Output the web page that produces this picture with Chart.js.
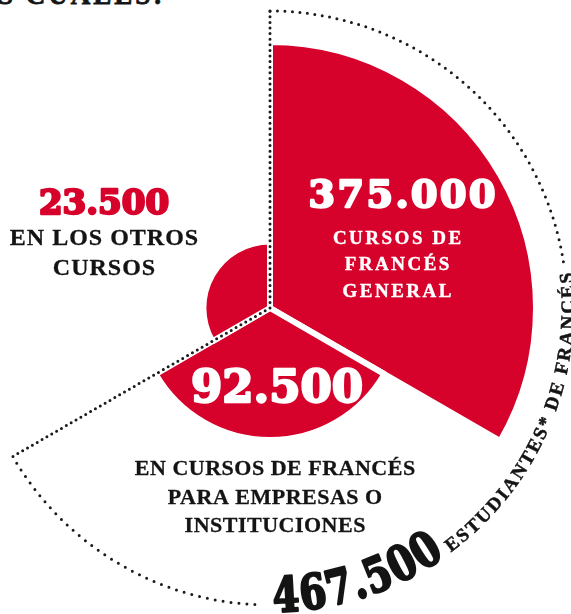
<!DOCTYPE html>
<html lang="es">
<head>
<meta charset="utf-8">
<script src="https://cdn.jsdelivr.net/npm/chart.js@4.4.1/dist/chart.umd.min.js"></script>
<style>
  html, body { margin: 0; padding: 0; background: #fff; overflow: hidden; }
  body { width: 571px; height: 614px; position: relative; }
  #titulo {
    position: absolute; left: -2px; top: -18px;
    font: bold 27px "Liberation Serif", serif; line-height: 27px;
    letter-spacing: 3px; color: #141414; white-space: nowrap;
    -webkit-text-stroke: 0.8px #141414;
  }
  #wrap { position: absolute; left: -27px; top: 0; width: 620px; height: 614px; }
</style>
</head>
<body>
<div id="titulo">S CUÁLES:</div>
<div id="wrap"><canvas id="grafico"></canvas></div>
<script>
// estudiantes de francés según el tipo de curso
const cursos = ['Francés general', 'Francés para empresas o instituciones', 'Otros cursos'];
const estudiantes = [375000, 92500, 23500];
const totalEstudiantes = 467500;
const cifras = ['375.000', '92.500', '23.500'];
const rotulos = [
  ['CURSOS DE', 'FRANCÉS', 'GENERAL'],
  ['EN CURSOS DE FRANCÉS', 'PARA EMPRESAS O', 'INSTITUCIONES'],
  ['EN LOS OTROS', 'CURSOS']
];
const cifraTotal = '467.500';
const rotuloTotal = 'ESTUDIANTES* DE FRANCÉS';

const ROJO = '#d7022b';
const NEGRO = '#141414';
const BLANCO = '#ffffff';

// posición de cada texto respecto al centro del gráfico
const estiloCifras = [
  { dx: 132, dy: -115, font: 'bold 38px "DejaVu Serif"', color: BLANCO, esp: 2.5 },
  { dx: 7, dy: 77, font: 'bold 45px "DejaVu Serif"', color: BLANCO, esp: 0 },
  { dx: -166, dy: -107, font: 'bold 34px "DejaVu Serif"', color: ROJO, esp: 0 }
];
const estiloRotulos = [
  { dx: 127, dy: -71, salto: 26.5, font: 'bold 19px "Liberation Serif"', color: BLANCO, esp: 2.5, grosor: 0.4 },
  { dx: 5, dy: 160, salto: 28.5, font: 'bold 22px "Liberation Serif"', color: NEGRO, esp: 0.5, grosor: 0.3 },
  { dx: -166, dy: -71, salto: 30, font: 'bold 24px "Liberation Serif"', color: NEGRO, esp: 1, grosor: 0.3 }
];

// escala radial por raíz cuadrada: el área del sector es proporcional al valor
class RadialRaizScale extends Chart.RadialLinearScale {
  static id = 'radialRaiz';
  getDistanceFromCenterForValue(value) {
    if (value === null || isNaN(value)) return NaN;
    const rango = this.max - this.min;
    const f = rango > 0 ? Math.max(0, value - this.min) / rango : 0;
    return this.drawingArea * Math.sqrt(this.options.reverse ? 1 - f : f);
  }
}
Chart.register(RadialRaizScale);

function textoCentrado(ctx, txt, x, y, font, color, esp, grosor) {
  ctx.font = font;
  ctx.letterSpacing = esp + 'px';
  ctx.textAlign = 'center';
  ctx.textBaseline = 'alphabetic';
  const alto = ctx.measureText('H').actualBoundingBoxAscent;
  const bx = x + esp / 2, by = y + alto / 2;
  ctx.fillStyle = color;
  ctx.fillText(txt, bx, by);
  if (grosor) {
    ctx.strokeStyle = color;
    ctx.lineWidth = grosor;
    ctx.lineJoin = 'round';
    ctx.strokeText(txt, bx, by);
  }
}

// texto sobre la circunferencia, leyendo en sentido antihorario, con la base hacia fuera
function textoEnArco(ctx, txt, cx, cy, rBase, inicio, font, esp, escalaX, grosor) {
  ctx.font = font;
  ctx.letterSpacing = '0px';
  ctx.textAlign = 'center';
  ctx.textBaseline = 'alphabetic';
  ctx.fillStyle = NEGRO;
  ctx.strokeStyle = NEGRO;
  const alto = ctx.measureText('H').actualBoundingBoxAscent;
  const rMedio = rBase - alto / 2;
  let ang = inicio;
  for (const ch of txt) {
    const ancho = ctx.measureText(ch).width * escalaX;
    const centro = ang - (ancho / 2) / rMedio;
    ctx.save();
    ctx.translate(cx + rBase * Math.cos(centro), cy + rBase * Math.sin(centro));
    ctx.rotate(centro - Math.PI / 2);
    ctx.scale(escalaX, 1);
    ctx.fillText(ch, 0, 0);
    if (grosor) {
      ctx.lineWidth = grosor;
      ctx.lineJoin = 'round';
      ctx.strokeText(ch, 0, 0);
    }
    ctx.restore();
    ang -= (ancho + esp) / rMedio;
  }
  return ang + esp / rMedio;
}

function punteado(ctx, paso, trazo) {
  ctx.save();
  ctx.strokeStyle = '#1a1a1a';
  ctx.lineWidth = 3;
  ctx.lineCap = 'round';
  ctx.setLineDash([0, paso]);
  ctx.beginPath();
  trazo();
  ctx.stroke();
  ctx.restore();
}

const sectorTotal = {
  id: 'sectorTotal',
  afterDatasetsDraw(chart) {
    const ctx = chart.ctx;
    const esc = chart.scales.r;
    const cx = esc.xCenter, cy = esc.yCenter;
    const R = esc.getDistanceFromCenterForValue(totalEstudiantes);
    const arcos = chart.getDatasetMeta(0).data;
    // el total reúne los dos primeros cursos
    const a0 = arcos[0].startAngle;
    const a1 = arcos[1].endAngle;

    ctx.save();
    // cifra y rótulo del total sobre el borde del sector
    const rBase = R + 7;
    const inicio = Math.PI / 2 - 0.009;
    let fin = textoEnArco(ctx, cifraTotal, cx, cy, rBase, inicio, 'bold 48px "DejaVu Serif"', 0, 0.8, 2.4);
    fin = textoEnArco(ctx, rotuloTotal, cx, cy, rBase, fin - 0.02, 'bold 19px "Liberation Serif"', 2, 1, 0.5);

    // contorno punteado del sector del total
    punteado(ctx, 5.6, () => {
      ctx.moveTo(cx, cy);
      ctx.lineTo(cx + R * Math.cos(a0), cy + R * Math.sin(a0));
      ctx.moveTo(cx, cy);
      ctx.lineTo(cx + R * Math.cos(a1), cy + R * Math.sin(a1));
    });
    punteado(ctx, 7.5, () => {
      ctx.arc(cx, cy, R, a0, fin - 0.035);
    });
    punteado(ctx, 8, () => {
      ctx.moveTo(cx + R * Math.cos(inicio + 0.06), cy + R * Math.sin(inicio + 0.06));
      ctx.arc(cx, cy, R, inicio + 0.06, a1);
    });

    // cifras y rótulos de cada sector
    estiloCifras.forEach((e, i) => {
      textoCentrado(ctx, cifras[i], cx + e.dx, cy + e.dy, e.font, e.color, e.esp, 2.4);
    });
    estiloRotulos.forEach((e, i) => {
      rotulos[i].forEach((linea, j) => {
        textoCentrado(ctx, linea, cx + e.dx, cy + e.dy + j * e.salto, e.font, e.color, e.esp, e.grosor);
      });
    });
    ctx.restore();
  }
};

new Chart(document.getElementById('grafico'), {
  type: 'polarArea',
  data: {
    labels: cursos,
    datasets: [{
      data: estudiantes,
      backgroundColor: ROJO,
      borderColor: BLANCO,
      borderWidth: 6
    }]
  },
  options: {
    responsive: true,
    maintainAspectRatio: false,
    animation: false,
    layout: { padding: { left: 0, right: 26, top: 11, bottom: 9 } },
    plugins: { legend: { display: false }, tooltip: { enabled: false } },
    scales: {
      r: {
        type: 'radialRaiz',
        min: 0,
        max: totalEstudiantes,
        startAngle: 0,
        ticks: { display: false },
        grid: { display: false },
        angleLines: { display: false },
        pointLabels: { display: false }
      }
    }
  },
  plugins: [sectorTotal]
});
</script>
</body>
</html>
